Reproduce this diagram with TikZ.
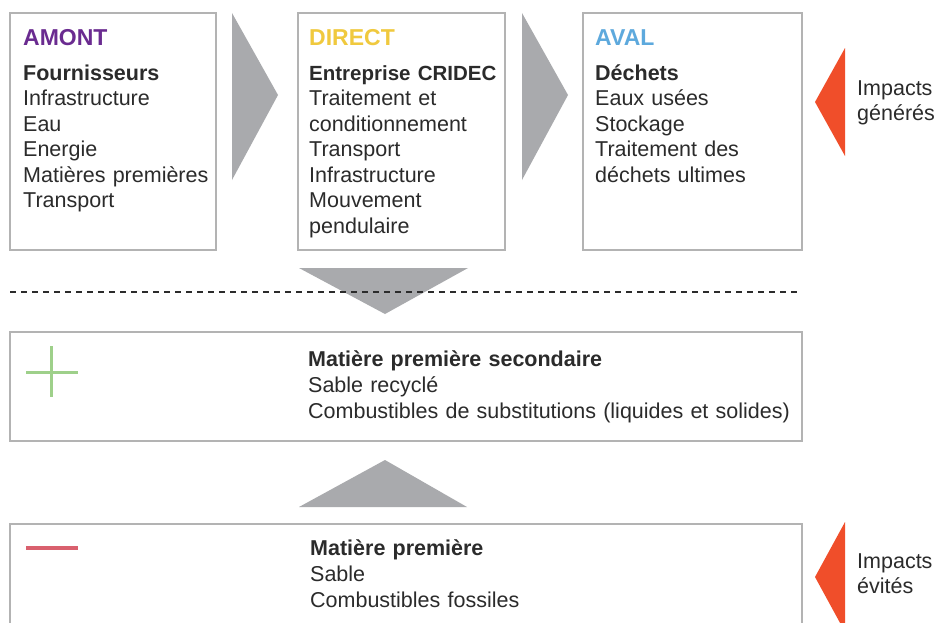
\documentclass[tikz,border=0pt]{standalone}
\usepackage{fontspec}
\setmainfont{Liberation Sans}
\definecolor{txt}{HTML}{2B2B2B}
\definecolor{boxgray}{HTML}{B3B3B3}
\definecolor{arrgray}{HTML}{A9AAAD}
\definecolor{impred}{HTML}{F04E2A}
\definecolor{amontc}{HTML}{6A2B90}
\definecolor{directc}{HTML}{F0C93E}
\definecolor{avalc}{HTML}{5DA9DD}
\definecolor{plusg}{HTML}{9ED08A}
\definecolor{minusr}{HTML}{D9606E}
\tikzset{
  box/.style={draw=boxgray, line width=1.4pt},
  col/.style={anchor=base west, inner sep=0pt, align=left, text=txt,
    font=\fontsize{21.5}{25.5}\selectfont, text width=#1},
  col/.default=200pt,
  ttl/.style={anchor=base west, inner sep=0pt, font=\fontsize{23}{25.5}\selectfont\bfseries},
  chev/.style={fill=arrgray, draw=none},
  redchev/.style={fill=impred, draw=none},
}
\begin{document}
\begin{tikzpicture}[x=1pt,y=-1pt]
\clip (0,0) rectangle (939,622);
\fill[white] (0,0) rectangle (939,622);
% boxes
\draw[box] (10,13) rectangle (216,250) coordinate (amontbox);
\draw[box] (298,13) rectangle (505,250) coordinate (directbox);
\draw[box] (583,13) rectangle (802,250) coordinate (avalbox);
\draw[box] (10,332) rectangle (802,441) coordinate (secbox);
\draw[box] (10,524) rectangle (802,660) coordinate (primbox);
% chevrons
\fill[chev] (232,13) -- (278,95) -- (232,180) -- cycle;
\fill[chev] (522,13) -- (568,95) -- (522,180) -- cycle;
\fill[chev] (299,268) -- (468,268) -- (385,314) -- cycle;
\fill[chev] (299,507) -- (467,507) -- (385,460) -- cycle;
\fill[redchev] (845,48) -- (815,102) -- (845,156) -- cycle;
\fill[redchev] (845,522) -- (815,577) -- (845,632) -- cycle;
% dashed separator
\coordinate (dl) at (10,292);
\coordinate (dr) at (800,292);
\draw[color=txt, line width=1.3pt, dash pattern=on 6pt off 5pt] (dl) -- (dr);
% plus / minus
\draw[plusg, line width=3pt] (26,372) -- (78,372);
\draw[plusg, line width=3pt] (51.5,346) -- (51.5,397);
\draw[minusr, line width=4pt] (26,548) -- (78,548);
% texts
\node[ttl, text=amontc] (tamont) at (23,45) {AMONT};
\node[col=190pt] (camont) at (23,80) {\textbf{Fournisseurs}\\Infrastructure\\Eau\\Energie\\Matières premières\\Transport};
\node[ttl, text=directc] (tdirect) at (309,45) {DIRECT};
\node[col=260pt] (cdirect) at (309,80) {\textbf{\fontsize{20.5}{25.5}\selectfont Entreprise CRIDEC}\\Traitement et\\conditionnement\\Transport\\Infrastructure\\Mouvement\\pendulaire};
\node[ttl, text=avalc] (taval) at (595,45) {AVAL};
\node[col=200pt] (caval) at (595,80) {\textbf{Déchets}\\Eaux usées\\Stockage\\Traitement des\\déchets ultimes};
\node[col=100pt, font=\fontsize{21.5}{25}\selectfont] (impg) at (857,95) {Impacts\\générés};
\node[col=490pt, font=\fontsize{21.5}{26}\selectfont] (csec) at (308,366.7) {\textbf{Matière première secondaire}\\Sable recyclé\\Combustibles de substitutions (liquides et solides)};
\node[col=490pt, font=\fontsize{21.5}{26}\selectfont] (cprim) at (310,555) {\textbf{Matière première}\\Sable\\Combustibles fossiles};
\node[col=100pt, font=\fontsize{21.5}{25}\selectfont] (impe) at (857,568) {Impacts\\évités};
\end{tikzpicture}
\end{document}
